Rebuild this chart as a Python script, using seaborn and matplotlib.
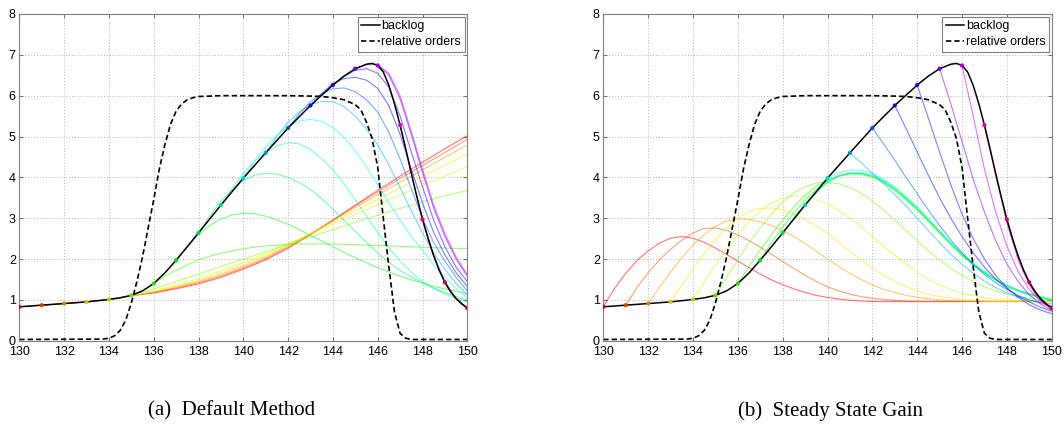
import matplotlib
matplotlib.use("Agg")
import matplotlib.pyplot as plt
import seaborn as sns
import pandas as pd
from matplotlib.colors import hsv_to_rgb

# ---------------------------------------------------------------- data
# backlog trajectory
t_backlog = [130, 131, 132, 133, 134, 134.5, 135, 135.5, 136, 136.5, 137, 137.5,
             138, 139, 140, 141, 142, 143, 144, 144.5, 145, 145.5, 145.75, 146,
             146.25, 146.5, 146.75, 147, 147.25, 147.5, 147.75, 148, 148.25,
             148.5, 148.75, 149, 149.25, 149.5, 149.75, 150]
backlog = [0.83, 0.87, 0.91, 0.95, 1.01, 1.05, 1.11, 1.22, 1.40, 1.66, 1.97, 2.30,
           2.64, 3.32, 3.98, 4.60, 5.21, 5.76, 6.26, 6.48, 6.66, 6.77, 6.79, 6.74,
           6.58, 6.25, 5.80, 5.28, 4.70, 4.10, 3.52, 2.97, 2.50,
           2.08, 1.72, 1.43, 1.20, 1.03, 0.90, 0.80]

# relative orders
t_orders = [130, 133.75, 134, 134.25, 134.5, 134.75, 135, 135.25, 135.5, 135.75,
            136, 136.25, 136.5, 136.75, 137, 137.25, 137.5, 137.75, 138, 139,
            142, 143, 143.5, 144, 144.5, 145, 145.25, 145.5, 145.75, 146,
            146.25, 146.5, 146.75, 147, 147.25, 147.5, 150]
rel_orders = [0.03, 0.04, 0.06, 0.12, 0.25, 0.50, 0.92, 1.45, 2.05, 2.75,
              3.45, 4.20, 4.80, 5.30, 5.62, 5.80, 5.90, 5.95, 5.98, 6.00,
              6.00, 5.99, 5.98, 5.95, 5.90, 5.78, 5.65, 5.35, 4.95, 4.25,
              3.00, 1.80, 0.70, 0.18, 0.06, 0.03, 0.03]

# forecast origins
origins = list(range(130, 150))

# (a) default method: each forecast runs from its origin k to 150 on an even
# grid (whole or half periods, depending on how many values are listed)
default_method = [
    [0.87, 0.91, 0.95, 1.01, 1.10, 1.17, 1.27, 1.39, 1.55, 1.75, 1.98, 2.26, 2.60, 2.95, 3.32, 3.68, 4.03, 4.37, 4.70, 5.02],
    [0.91, 0.95, 1.01, 1.10, 1.18, 1.29, 1.42, 1.58, 1.78, 2.01, 2.29, 2.61, 2.95, 3.30, 3.64, 3.97, 4.29, 4.61, 4.93],
    [0.95, 1.01, 1.10, 1.19, 1.31, 1.45, 1.62, 1.82, 2.05, 2.32, 2.62, 2.94, 3.26, 3.57, 3.88, 4.18, 4.49, 4.79],
    [1.01, 1.10, 1.20, 1.33, 1.48, 1.66, 1.86, 2.09, 2.35, 2.62, 2.90, 3.18, 3.46, 3.74, 4.02, 4.30, 4.57],
    [1.10, 1.22, 1.36, 1.52, 1.71, 1.91, 2.13, 2.37, 2.61, 2.85, 3.09, 3.33, 3.57, 3.80, 4.03, 4.26],
    [1.27, 1.45, 1.63, 1.82, 2.00, 2.18, 2.36, 2.54, 2.72, 2.90, 3.07, 3.24, 3.40, 3.55, 3.68],
    [1.58, 1.72, 1.86, 1.98, 2.07, 2.14, 2.20, 2.25, 2.29, 2.32, 2.34, 2.36, 2.37, 2.37,
     2.37, 2.37, 2.36, 2.35, 2.34, 2.33, 2.32, 2.31, 2.30, 2.29, 2.28, 2.27, 2.26, 2.26],
    [2.32, 2.60, 2.82, 2.98, 3.08, 3.12, 3.11, 3.05, 2.96, 2.85, 2.72, 2.58, 2.44,
     2.30, 2.16, 2.03, 1.91, 1.79, 1.68, 1.58, 1.49, 1.41, 1.33, 1.27, 1.21, 1.15],
    [3.05, 3.42, 3.70, 3.92, 4.05, 4.10, 4.08, 4.00, 3.87, 3.70, 3.48, 3.22,
     2.95, 2.68, 2.41, 2.15, 1.92, 1.72, 1.56, 1.42, 1.29, 1.18, 1.08, 1.00],
    [3.72, 4.10, 4.40, 4.62, 4.77, 4.85, 4.82, 4.68, 4.46, 4.18, 3.84,
     3.45, 3.05, 2.65, 2.28, 1.95, 1.68, 1.45, 1.28, 1.15, 1.04, 0.95],
    [4.40, 4.75, 5.03, 5.25, 5.38, 5.42, 5.37, 5.22, 4.98, 4.65,
     4.26, 3.82, 3.38, 2.95, 2.56, 2.22, 1.85, 1.55, 1.28, 1.05],
    [5.00, 5.35, 5.60, 5.78, 5.86, 5.85, 5.73, 5.50, 5.18,
     4.80, 4.30, 3.75, 3.18, 2.64, 2.15, 1.75, 1.40, 1.12],
    [5.56, 5.85, 6.05, 6.17, 6.19, 6.10, 5.90, 5.60,
     5.10, 4.45, 3.72, 3.00, 2.40, 1.95, 1.55, 1.22],
    [6.05, 6.30, 6.42, 6.45, 6.38, 6.18, 5.75,
     5.05, 4.20, 3.37, 2.65, 2.10, 1.66, 1.33],
    [6.48, 6.62, 6.66, 6.55, 6.20, 5.50, 4.62, 3.77, 2.95, 2.30, 1.80, 1.45],
    [6.77, 6.77, 6.50, 5.92, 5.05, 4.12, 3.25, 2.55, 2.00, 1.58],
    [6.55, 6.00, 5.12, 4.20, 3.32, 2.62, 2.05, 1.62],
    [4.10, 2.97, 2.08, 1.43, 1.03, 0.80],
    [2.08, 1.43, 1.03, 0.80],
    [1.03, 0.80],
]

# (b) steady state gain: forecasts on a half-period grid from k to 150
steady_state_gain = [
    [1.28, 1.65, 1.96, 2.20, 2.39, 2.51, 2.55, 2.51, 2.41, 2.27, 2.11, 1.95, 1.79, 1.63,
     1.49, 1.37, 1.27, 1.18, 1.11, 1.06, 1.02, 0.99, 0.97, 0.96, 0.96, 0.96, 0.96, 0.96,
     0.96, 0.96, 0.96, 0.96, 0.96, 0.96, 0.96, 0.96, 0.96, 0.96, 0.96, 0.96],
    [1.30, 1.66, 1.98, 2.24, 2.46, 2.64, 2.75, 2.76, 2.70, 2.59, 2.45, 2.29, 2.12, 1.94,
     1.77, 1.60, 1.45, 1.32, 1.22, 1.14, 1.08, 1.04, 1.01, 0.99, 0.97, 0.96, 0.96, 0.96,
     0.96, 0.96, 0.96, 0.96, 0.96, 0.96, 0.96, 0.96, 0.96, 0.96],
    [1.30, 1.68, 2.03, 2.35, 2.60, 2.80, 2.93, 2.98, 2.97, 2.91, 2.82, 2.70, 2.55, 2.38,
     2.19, 2.00, 1.82, 1.65, 1.50, 1.37, 1.26, 1.18, 1.11, 1.06, 1.03, 1.00, 0.98, 0.97,
     0.96, 0.96, 0.96, 0.96, 0.96, 0.96, 0.96, 0.96],
    [1.36, 1.76, 2.13, 2.47, 2.76, 3.00, 3.16, 3.24, 3.25, 3.20, 3.10, 2.97, 2.81, 2.62,
     2.41, 2.19, 1.98, 1.78, 1.60, 1.45, 1.32, 1.22, 1.14, 1.08, 1.04, 1.01, 0.99, 0.97,
     0.96, 0.96, 0.96, 0.96, 0.96, 0.96],
    [1.43, 1.85, 2.24, 2.60, 2.92, 3.18, 3.37, 3.49, 3.55, 3.53, 3.46, 3.35, 3.19, 3.00,
     2.79, 2.56, 2.32, 2.09, 1.87, 1.67, 1.50, 1.36, 1.25, 1.16, 1.10, 1.05, 1.02, 0.99,
     0.98, 0.97, 0.96, 0.96],
    [1.56, 1.98, 2.40, 2.76, 3.10, 3.40, 3.62, 3.77, 3.86, 3.88, 3.84, 3.75, 3.61, 3.42,
     3.20, 2.95, 2.70, 2.45, 2.20, 1.98, 1.78, 1.60, 1.45, 1.32, 1.22, 1.14, 1.08, 1.04,
     1.01, 0.99],
    [1.82, 2.22, 2.60, 2.95, 3.28, 3.56, 3.78, 3.93, 4.03, 4.08, 4.07, 4.00, 3.87, 3.68,
     3.45, 3.20, 2.92, 2.63, 2.35, 2.08, 1.85, 1.65, 1.48, 1.33, 1.22, 1.13, 1.06, 1.00],
    [2.40, 2.78, 3.13, 3.45, 3.71, 3.91, 4.04, 4.10, 4.09, 4.02, 3.89, 3.70, 3.47, 3.22,
     2.94, 2.65, 2.37, 2.10, 1.86, 1.66, 1.49, 1.34, 1.23, 1.14, 1.07, 1.00],
    [3.02, 3.36, 3.65, 3.88, 4.03, 4.10, 4.10, 4.04, 3.91, 3.72, 3.49, 3.24, 2.96, 2.67,
     2.39, 2.12, 1.88, 1.68, 1.50, 1.35, 1.24, 1.15, 1.08, 1.01],
    [3.62, 3.87, 4.03, 4.11, 4.11, 4.06, 3.93, 3.74, 3.51, 3.26, 2.98, 2.69, 2.41, 2.14,
     1.90, 1.69, 1.51, 1.36, 1.24, 1.15, 1.07, 1.00],
    [4.11, 4.18, 4.17, 4.10, 3.96, 3.76, 3.53, 3.27, 2.98, 2.68, 2.39, 2.12, 1.87, 1.66,
     1.48, 1.33, 1.21, 1.12, 1.04, 0.98],
    [4.36, 4.10, 3.85, 3.58, 3.30, 3.00, 2.70, 2.40, 2.12, 1.87, 1.65, 1.46, 1.30, 1.17,
     1.07, 0.99, 0.94, 0.90],
    [4.82, 4.42, 4.00, 3.60, 3.20, 2.82, 2.47, 2.15, 1.87, 1.62, 1.42, 1.25, 1.11, 1.00,
     0.92, 0.85],
    [5.20, 4.62, 4.05, 3.50, 3.00, 2.55, 2.15, 1.80, 1.51, 1.28, 1.09, 0.95, 0.82, 0.72],
    [5.45, 4.62, 3.82, 3.10, 2.50, 2.00, 1.60, 1.30, 1.06, 0.88, 0.75, 0.66],
    [5.80, 4.88, 3.95, 3.15, 2.45, 1.88, 1.45, 1.12, 0.90, 0.74],
    [5.50, 4.20, 3.15, 2.32, 1.70, 1.25, 0.97, 0.79],
    [4.05, 2.88, 1.98, 1.36, 0.98, 0.78],
    [2.06, 1.42, 1.02, 0.79],
    [1.03, 0.80],
]

panel_titles = ["(a)  Default Method", "(b)  Steady State Gain"]
legend_labels = ["backlog", "relative orders"]

# ---------------------------------------------------------------- style
plt.rcParams["font.family"] = ["Liberation Sans", "DejaVu Sans"]
plt.rcParams["font.size"] = 9

level = dict(zip(t_backlog, backlog))


def origin_colour(k, value=1.0):
    return hsv_to_rgb(((k - 130) / 20.0 % 1.0, 1.0, value))


def forecast_frame(forecasts):
    rows = []
    for k, values in zip(origins, forecasts):
        rows.append((k, k, level[k]))
        step = (150 - k) / len(values)
        for j, v in enumerate(values, start=1):
            rows.append((k, k + j * step, v))
    return pd.DataFrame(rows, columns=["origin", "t", "value"])


def draw_panel(ax, forecasts):
    df = forecast_frame(forecasts)
    palette = {k: origin_colour(k) for k in origins}
    sns.lineplot(data=df, x="t", y="value", hue="origin", units="origin",
                 estimator=None, sort=False, palette=palette, legend=False,
                 lw=0.8, alpha=0.55, ax=ax)

    sns.lineplot(x=t_orders, y=rel_orders, color="black", lw=1.2,
                 label=legend_labels[1], ax=ax, sort=False)
    ax.lines[-1].set_dashes((3.2, 1.8))
    sns.lineplot(x=t_backlog, y=backlog, color="black", lw=1.1,
                 label=legend_labels[0], ax=ax, sort=False)

    dots = pd.DataFrame({"t": list(range(130, 151))})
    dots["value"] = [level[t] for t in dots["t"]]
    sns.scatterplot(data=dots, x="t", y="value", hue="t",
                    palette={t: origin_colour(t, 0.85) for t in dots["t"]},
                    s=9, linewidth=0, legend=False, ax=ax, zorder=5)

    ax.set_xlim(130, 150)
    ax.set_ylim(0, 8)
    ax.set_xticks(range(130, 151, 2))
    ax.set_yticks(range(0, 9))
    ax.set_xlabel("")
    ax.set_ylabel("")
    ax.set_axisbelow(True)
    ax.grid(True, linestyle=(0, (1, 2)), color="#b4b4b4", lw=0.7)
    ax.tick_params(direction="in", length=3, top=True, right=True,
                   color="#707070", labelsize=9, pad=2.5)
    ax.tick_params(axis="x", pad=3.5)
    for s in ax.spines.values():
        s.set_color("#808080")
        s.set_linewidth(0.8)

    h, l = ax.get_legend_handles_labels()
    order = [l.index(legend_labels[0]), l.index(legend_labels[1])]
    leg = ax.legend([h[i] for i in order], [l[i] for i in order],
                    loc="upper right", fontsize=9, frameon=True, fancybox=False,
                    framealpha=1, edgecolor="#808080", borderaxespad=0.2,
                    handlelength=1.5, handletextpad=0.1, borderpad=0.3,
                    labelspacing=0.3)
    leg.get_frame().set_linewidth(0.8)


fig = plt.figure(figsize=(10.64, 4.25), dpi=100)
ax_a = fig.add_axes([19.3 / 1064, (425 - 340.7) / 425, 448 / 1064, 326.7 / 425])
ax_b = fig.add_axes([603.3 / 1064, (425 - 340.7) / 425, 448.4 / 1064, 326.7 / 425])

draw_panel(ax_a, default_method)
draw_panel(ax_b, steady_state_gain)

fig.text(232 / 1064, 1 - 411 / 425, panel_titles[0], ha="center", va="center",
         family=["Liberation Serif"], fontsize=15)
fig.text(830 / 1064, 1 - 411 / 425, panel_titles[1], ha="center", va="center",
         family=["Liberation Serif"], fontsize=15)

fig.savefig("out.png", dpi=100)
